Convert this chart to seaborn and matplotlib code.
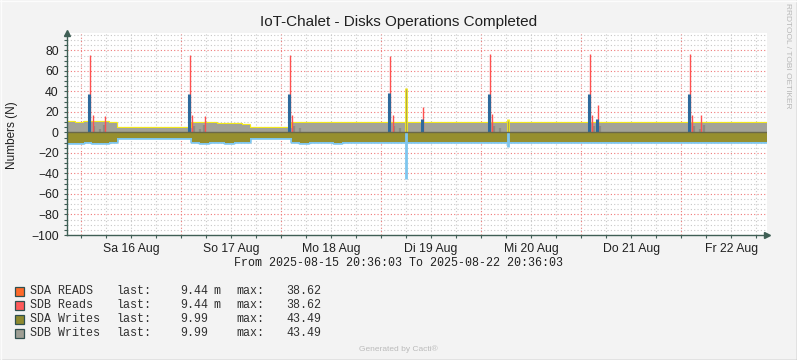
import matplotlib
matplotlib.use("Agg")
import matplotlib.pyplot as plt
import matplotlib.dates as mdates
from matplotlib.lines import Line2D
from matplotlib.ticker import MultipleLocator, NullFormatter, FuncFormatter
import pandas as pd
import seaborn as sns

start = pd.Timestamp("2025-08-15 20:36:03")
end = pd.Timestamp("2025-08-22 20:36:03")

# 2-hourly levels (hour 0 = start)
writes_up = [10.0, 9.6, 10.2, 9.8, 10.0, 9.5,
             4.2, 4.5, 4.0, 4.4, 4.6, 4.3, 4.5, 4.2, 4.4,
             9.6, 9.2, 8.8, 8.2, 7.8, 8.0, 7.6,
             4.3, 4.1, 4.4, 4.2, 4.5,
             9.2, 9.4, 9.0, 9.3, 9.5, 9.1, 9.2, 9.4, 9.0, 9.2,
             9.3, 9.1, 9.4, 9.0, 9.2, 9.3, 9.5, 9.1, 9.0, 9.2,
             9.4, 9.2, 9.0, 9.3, 9.1, 9.4, 9.2, 9.0, 9.3, 9.5,
             9.1, 9.2, 9.4, 9.0, 9.2, 9.3, 9.1, 9.4, 9.2, 9.0,
             9.3, 9.2, 9.4, 9.1, 9.0, 9.3, 9.2, 9.4, 9.5, 9.3,
             9.1, 9.2, 9.4, 9.3, 9.2, 9.4, 9.3, 9.3]
writes_down = [-9.8, -10.0, -9.6, -9.9, -10.0, -9.7,
               -5.3, -5.0, -5.4, -5.2, -5.5, -5.1, -5.3, -5.2, -5.4,
               -9.6, -9.8, -9.5, -9.7, -9.9, -9.6, -9.4,
               -5.2, -5.4, -5.1, -5.3, -5.2,
               -9.6, -9.8, -9.4, -9.7, -9.5, -9.9, -9.6, -9.3, -9.5, -9.7,
               -9.4, -9.6, -9.2, -9.5, -9.3, -9.6, -9.4, -9.2, -9.5, -9.3,
               -9.6, -9.4, -9.2, -9.5, -9.3, -9.1, -9.4, -9.2, -9.5, -9.3,
               -9.2, -9.4, -9.6, -9.3, -9.1, -9.4, -9.2, -9.5, -9.3, -9.2,
               -9.4, -9.2, -9.5, -9.6, -9.3, -9.4, -9.2, -9.5, -9.3, -9.2,
               -9.4, -9.3, -9.5, -9.2, -9.4, -9.3, -9.3, -9.3]

# nightly read bursts (hours after start)
read_hours = [5.4, 29.4, 53.4, 77.4, 101.4, 125.4, 149.4, 85.3, 127.3]
read_vals = [37.5, 37.5, 37.5, 38.6, 37.5, 37.5, 37.5, 13.0, 13.0]
peak_hours = [5.6, 29.6, 53.6, 77.6, 101.6, 125.6, 149.6,
              6.2, 9.2, 30.1, 33.2, 54.1, 78.2, 85.4, 102.1, 125.9, 127.5, 150.1, 152.1]
peak_vals = [75.5, 75.5, 75.5, 74.5, 77.0, 76.5, 76.5,
             17, 16, 17, 16, 17, 17, 24.5, 18, 17, 26.5, 17, 17]
bump_hours = [6.6, 7.8, 8.8, 30.6, 31.8, 32.8, 54.6, 55.8, 78.6, 79.8,
              102.6, 103.8, 126.6, 127.9, 150.6, 151.8, 152.8]
bump_vals = [6, 3, 7, 6, 3, 7, 6, 4, 6, 4, 6, 4, 6, 6, 6, 3, 7]
write_spike_hours = [81.4, 105.8]
write_spike_up = [43.5, 13.0]
write_spike_down = [-45.0, -14.0]

legend_names = ["SDA READS", "SDB Reads", "SDA Writes", "SDB Writes"]
legend_last = ["9.44", "9.44", "9.99", "9.99"]
legend_unit = ["m", "m", "", ""]
legend_max = ["38.62", "38.62", "43.49", "43.49"]
legend_colors = ["#FF6A2A", "#FF5A5A", "#8F8A2E", "#9E9E94"]

weekdays = ["Mo", "Di", "Mi", "Do", "Fr", "Sa", "So"]


def at(hours):
    return [start + pd.Timedelta(hours=h) for h in hours]


times = pd.date_range(start, periods=len(writes_up), freq="2h")
df = pd.DataFrame({"time": times, "up": writes_up, "down": writes_down})

sns.set_style("white")
plt.rcParams["font.family"] = ["Liberation Sans", "DejaVu Sans"]

W, H = 797, 360
fig = plt.figure(figsize=(W / 100, H / 100), dpi=100)
fig.patch.set_facecolor("#F3F3F3")
ax = fig.add_axes([67 / W, 1 - 235 / H, 700 / W, 202 / H])
ax.set_facecolor("white")

# yellow / light blue edge lines sit under the areas
sns.lineplot(data=df, x="time", y="up", ax=ax, color="#F2E81C", lw=1.6,
             drawstyle="steps-post", zorder=2)
sns.lineplot(data=df, x="time", y="down", ax=ax, color="#7EC6EE", lw=2.6,
             drawstyle="steps-post", zorder=2)
ax.fill_between(df["time"], 0, df["up"], step="post", color="#A3A399", lw=0, zorder=3)
ax.fill_between(df["time"], 0, df["down"], step="post", color="#968F2E", lw=0, zorder=3)

ax.vlines(at(write_spike_hours), 0, write_spike_down, color="#7EC6EE", lw=2.0, zorder=3)
ax.vlines(at(write_spike_hours), 0, write_spike_up, color="#F2E81C", lw=2.0, zorder=3)
ax.vlines(at(write_spike_hours), 0, [v - 1.5 for v in write_spike_up], color="#B0A84A", lw=0.8, zorder=3)
ax.vlines(at(bump_hours), 0, bump_vals, color="#8C8C84", lw=1.6, zorder=4)
ax.vlines(at(peak_hours), 0, peak_vals, color="#FF5050", lw=1.0, zorder=4)
ax.vlines(at(read_hours), 0, read_vals, color="#2E6A9C", lw=2.2, zorder=5)
ax.axhline(0, color="#6A684A", lw=1.0, zorder=5)

ax.set_xlim(start, end)
ax.set_ylim(-100, 97)

ax.yaxis.set_major_locator(MultipleLocator(20))
ax.yaxis.set_minor_locator(MultipleLocator(5))
ax.xaxis.set_major_locator(mdates.DayLocator())
ax.xaxis.set_major_formatter(NullFormatter())
ax.xaxis.set_minor_locator(mdates.HourLocator(byhour=[0, 6, 12, 18]))


def day_label(x, pos):
    d = mdates.num2date(x)
    if d.hour == 12:
        return f"{weekdays[d.weekday()]} {d.day} Aug"
    return ""


ax.xaxis.set_minor_formatter(FuncFormatter(day_label))

ax.grid(which="major", color="#F07878", ls=(0, (1, 2)), lw=0.8, zorder=1)
ax.grid(which="minor", color="#C8C8C8", ls=(0, (1, 2)), lw=0.8, zorder=1)
ax.set_axisbelow(True)

for s in ["top", "right"]:
    ax.spines[s].set_visible(False)
for s in ["left", "bottom"]:
    ax.spines[s].set_color("#3F5F55")
    ax.spines[s].set_linewidth(1.0)
    ax.spines[s].set_zorder(6)

ax.tick_params(axis="y", which="both", left=True, length=2, width=0.8,
               color="#3F5F55", labelsize=8.8, pad=4, labelcolor="#202020")
ax.tick_params(axis="x", which="both", bottom=True, length=2, width=0.8,
               color="#3F5F55", labelsize=8.8, pad=4, labelcolor="#202020")
ax.set_xlabel("")
ax.set_ylabel("")

# axis arrows
ax.plot([0], [1.0], marker="^", color="#3F5F55", ms=5, transform=ax.transAxes,
        clip_on=False, zorder=7)
ax.plot([1.0], [0], marker=">", color="#3F5F55", ms=5, transform=ax.transAxes,
        clip_on=False, zorder=7)

fig.text(399 / W, 1 - 22 / H, "IoT-Chalet - Disks Operations Completed",
         ha="center", va="center", fontsize=11, color="#202020")
fig.text(12 / W, 1 - 135 / H, "Numbers (N)", rotation=90, ha="center", va="center",
         fontsize=8.5, color="#202020")
fig.text(788 / W, 1 - 56 / H, "RRDTOOL / TOBI OETIKER", rotation=270, ha="center",
         va="center", fontsize=6, color="#B8B8B8")
fig.text(398 / W, 1 - 263 / H, "From 2025-08-15 20:36:03 To 2025-08-22 20:36:03",
         ha="center", va="center", fontsize=8.4, family="Liberation Mono", color="#202020")
fig.text(398 / W, 1 - 349 / H, "Generated by Cacti®", ha="center", va="center",
         fontsize=6, color="#BBBBBB")

for i, name in enumerate(legend_names):
    y = 1 - (291.5 + 14 * i) / H
    fig.patches.append(plt.Rectangle((15 / W, y - 4.5 / H), 9 / W, 9 / H,
                                     transform=fig.transFigure, facecolor=legend_colors[i],
                                     edgecolor="#2F4F4F", lw=0.9))
    kw = dict(va="center", fontsize=8.4, family="Liberation Mono", color="#303030")
    fig.text(30 / W, y, name, **kw)
    fig.text(116.7 / W, y, "last:", **kw)
    fig.text(180 / W, y, legend_last[i], **kw)
    fig.text(213 / W, y, legend_unit[i], **kw)
    fig.text(236.7 / W, y, "max:", **kw)
    fig.text(286.7 / W, y, legend_max[i], **kw)

# outer frame of the image
fig.add_artist(Line2D([0, 1], [0.5 / H, 0.5 / H], transform=fig.transFigure, color="#A0A0A0", lw=1))
fig.add_artist(Line2D([1 - 0.5 / W, 1 - 0.5 / W], [0, 1], transform=fig.transFigure, color="#A0A0A0", lw=1))
fig.add_artist(Line2D([0, 1], [1 - 0.5 / H, 1 - 0.5 / H], transform=fig.transFigure, color="#FCFCFC", lw=1))
fig.add_artist(Line2D([0.5 / W, 0.5 / W], [0, 1], transform=fig.transFigure, color="#FCFCFC", lw=1))

fig.savefig("out.png", dpi=100, facecolor=fig.get_facecolor())
